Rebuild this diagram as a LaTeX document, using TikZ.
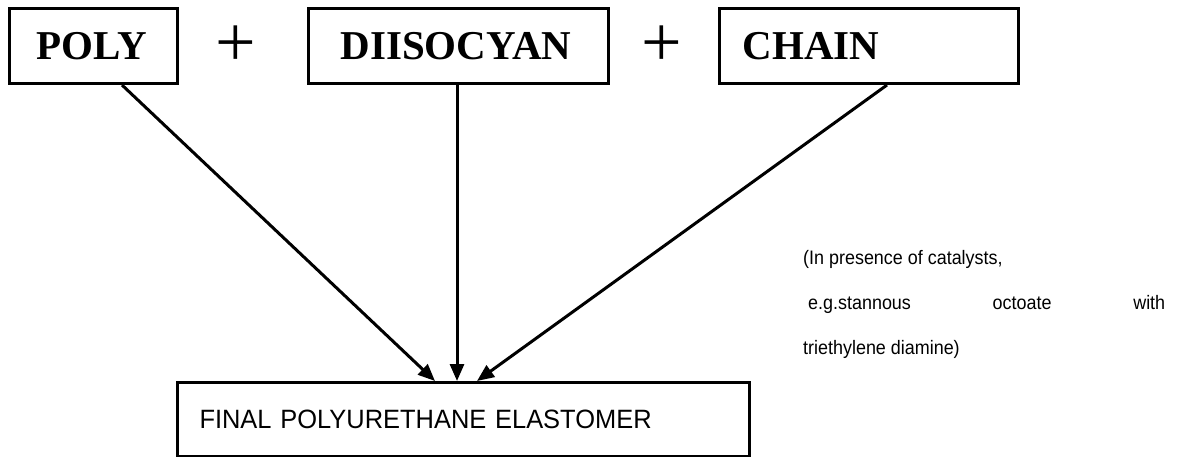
\documentclass[tikz,border=0pt]{standalone}
\usepackage{fontspec}
\setmainfont{Liberation Serif}
\newfontfamily\arialfont[FakeStretch=0.96]{Liberation Sans}
\newfontfamily\notefont[FakeStretch=0.92]{Liberation Sans}
\usetikzlibrary{arrows.meta}
\tikzset{
  topbox/.style={draw, line width=3pt, align=left, inner ysep=0pt, minimum height=75pt, anchor=north west,
    font=\fontsize{41}{41}\selectfont\bfseries},
  finalbox/.style={draw, line width=3pt, align=left, inner ysep=0pt, minimum height=74pt, anchor=north west,
    font=\arialfont\fontsize{26.5}{26.5}\selectfont},
  plussign/.style={inner sep=0pt, font=\fontsize{72}{72}\selectfont},
  notetext/.style={inner sep=0pt, anchor=base west, font=\notefont\fontsize{19.5}{19.5}\selectfont},
  arr/.style={line width=3pt, -{Triangle[length=17pt,width=14pt]}}
}
\begin{document}
\begin{tikzpicture}[x=1pt,y=-1pt]
\useasboundingbox (0,0) rectangle (1184,457);
\node[topbox, text width=114pt, inner xsep=27pt] (poly) at (8,7) {POLY};
\node[topbox, text width=236pt, inner xsep=32pt] (diiso) at (307,7) {DIISOCYAN};
\node[topbox, text width=253pt, inner xsep=23pt] (chain) at (718,7) {CHAIN};
\node[plussign] (plusa) at (236,46) {+};
\node[plussign] (plusb) at (662,46) {+};
\node[finalbox, text width=528pt, inner xsep=22pt] (final) at (176,381) {FINAL POLYURETHANE ELASTOMER};
\draw[arr] ([xshift=114pt]poly.south west) -- ([xshift=259pt]final.north west);
\draw[arr] ([xshift=150pt]diiso.south west) -- ([xshift=281pt]final.north west);
\draw[arr] ([xshift=169pt]chain.south west) -- ([xshift=301pt]final.north west);
\node[notetext] (notea) at (803,265) {(In presence of catalysts,};
\node[notetext] (noteb) at (808,309) {\makebox[357pt][s]{e.g.stannous\hfill octoate\hfill with}};
\node[notetext] (notec) at (803,354) {triethylene diamine)};
\end{tikzpicture}
\end{document}
